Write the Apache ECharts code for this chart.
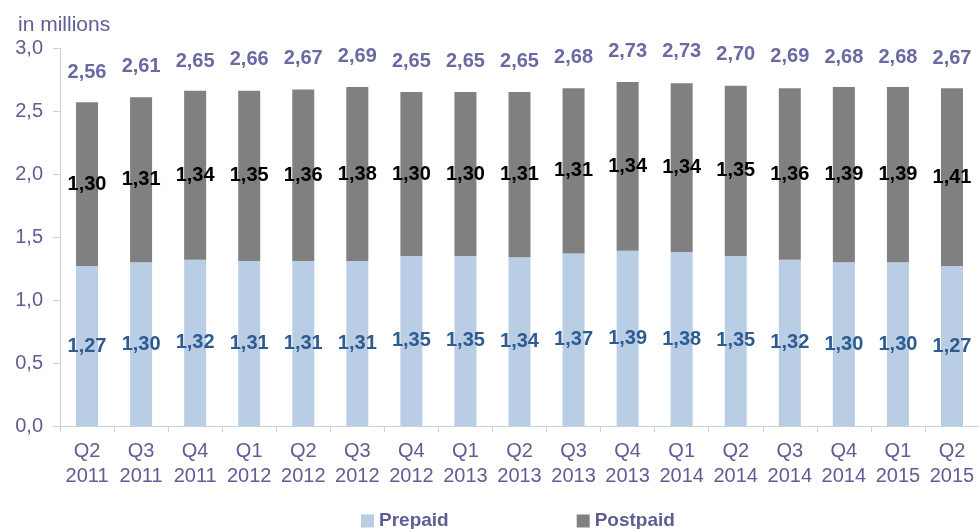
<!DOCTYPE html>
<html>
<head>
<meta charset="utf-8">
<script src="https://cdn.jsdelivr.net/npm/echarts@6/dist/echarts.min.js"></script>
<style>
  html, body { margin: 0; padding: 0; background: #fff; }
  #chart { width: 979px; height: 529px; }
</style>
</head>
<body>
<div id="chart"></div>
<script>
// Subscribers per quarter, in millions
const quarters = ['Q2\n2011', 'Q3\n2011', 'Q4\n2011', 'Q1\n2012', 'Q2\n2012', 'Q3\n2012', 'Q4\n2012',
    'Q1\n2013', 'Q2\n2013', 'Q3\n2013', 'Q4\n2013', 'Q1\n2014', 'Q2\n2014', 'Q3\n2014', 'Q4\n2014',
    'Q1\n2015', 'Q2\n2015'];
const prepaid = [1.27, 1.30, 1.32, 1.31, 1.31, 1.31, 1.35, 1.35, 1.34, 1.37, 1.39, 1.38, 1.35, 1.32, 1.30, 1.30, 1.27];
const postpaid = [1.30, 1.31, 1.34, 1.35, 1.36, 1.38, 1.30, 1.30, 1.31, 1.31, 1.34, 1.34, 1.35, 1.36, 1.39, 1.39, 1.41];
const totals = [2.56, 2.61, 2.65, 2.66, 2.67, 2.69, 2.65, 2.65, 2.65, 2.68, 2.73, 2.73, 2.70, 2.69, 2.68, 2.68, 2.67];

const font = 'Liberation Sans, Arial, sans-serif';
const comma = (v, d) => v.toFixed(d).replace('.', ',');

const chart = echarts.init(document.getElementById('chart'));
chart.setOption({
    animation: false,
    textStyle: { fontFamily: font },
    title: {
        text: 'in millions',
        left: 18, top: 15, padding: 0,
        textStyle: { fontFamily: font, fontSize: 21, fontWeight: 'normal', color: '#5e5e94' }
    },
    legend: {
        top: 511,
        left: 361,
        padding: 0,
        itemGap: 128,
        itemWidth: 13, itemHeight: 13,
        icon: 'rect',
        data: ['Prepaid', 'Postpaid'],
        textStyle: { fontFamily: font, fontSize: 19, fontWeight: 'bold', color: '#5e5e94', lineHeight: 20 }
    },
    grid: { left: 60, right: 0, top: 48, bottom: 103 },
    xAxis: {
        type: 'category',
        data: quarters,
        axisLine: { lineStyle: { color: '#c5d3d6' } },
        axisTick: { show: true, length: 6, lineStyle: { color: '#c5d3d6' } },
        axisLabel: {
            fontFamily: font, fontSize: 20, color: '#5e5e94', lineHeight: 25, margin: 13,
            interval: 0, hideOverlap: false
        }
    },
    yAxis: {
        type: 'value',
        min: 0, max: 3, interval: 0.5,
        splitLine: { show: false },
        axisLine: { show: true, lineStyle: { color: '#c5d3d6' } },
        axisTick: { show: true, length: 7, lineStyle: { color: '#c5d3d6' } },
        axisLabel: {
            fontFamily: font, fontSize: 20, color: '#5e5e94', margin: 17,
            formatter: v => comma(v, 1)
        }
    },
    series: [
        {
            name: 'Prepaid',
            type: 'bar',
            stack: 'subs',
            barWidth: 22,
            data: prepaid,
            itemStyle: { color: '#b9cde5' },
            label: {
                show: true, position: 'inside',
                fontFamily: font, fontSize: 20, fontWeight: 'bold', color: '#2e5c91',
                formatter: p => comma(p.value, 2)
            }
        },
        {
            name: 'Postpaid',
            type: 'bar',
            stack: 'subs',
            barWidth: 22,
            data: postpaid,
            itemStyle: { color: '#808080' },
            label: {
                show: true, position: 'inside',
                fontFamily: font, fontSize: 20, fontWeight: 'bold', color: '#000',
                formatter: p => comma(p.value, 2)
            }
        },
        {
            name: 'Total',
            type: 'bar',
            barWidth: 22,
            barGap: '-100%',
            data: totals,
            itemStyle: { color: 'rgba(0,0,0,0)' },
            silent: true,
            z: 1,
            label: {
                show: true, position: 'top', distance: 21,
                fontFamily: font, fontSize: 20, fontWeight: 'bold', color: '#6a6aa3',
                formatter: p => comma(p.value, 2)
            }
        }
    ]
});
</script>
</body>
</html>
